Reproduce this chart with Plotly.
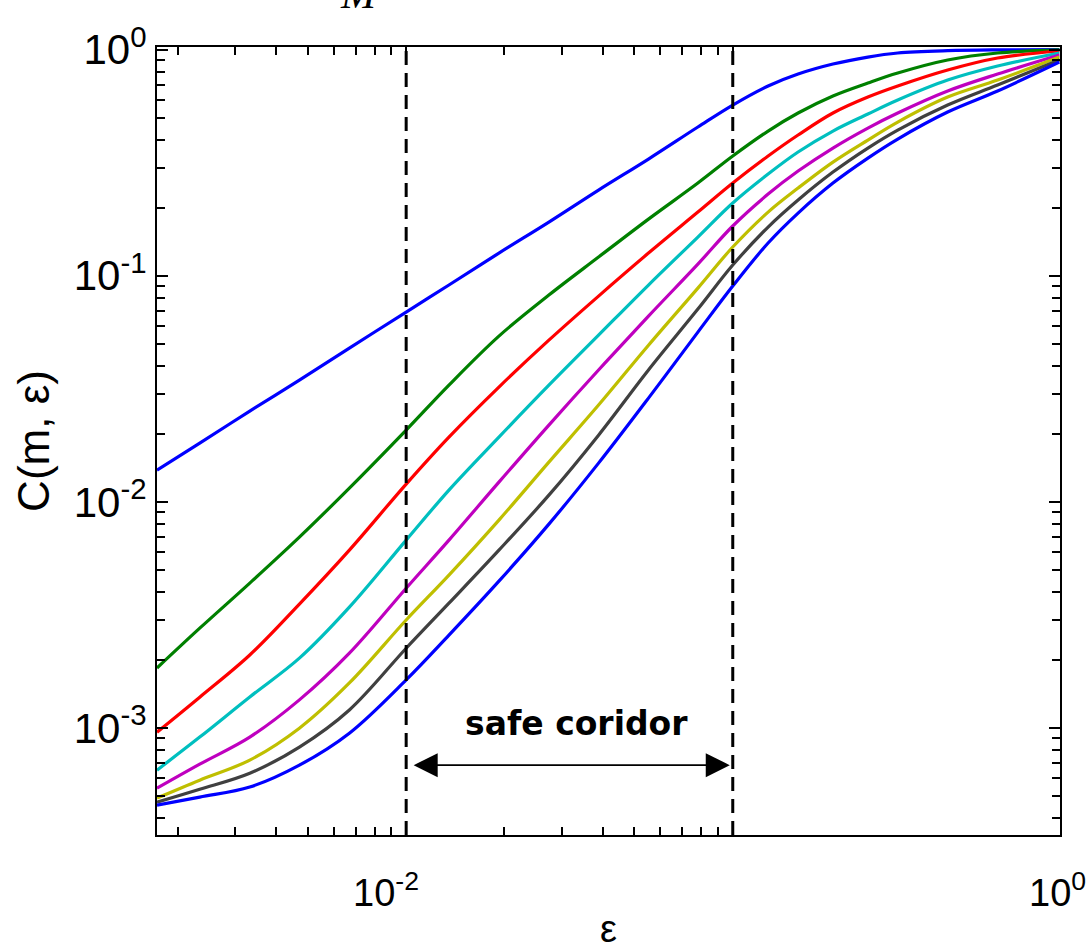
import math
import plotly.graph_objects as go

# Neighbourhood radius values shared by all correlation-sum curves
eps = [0.001726, 0.002333, 0.00332, 0.00471, 0.0067, 0.01, 0.01352, 0.01923,
       0.02735, 0.03882, 0.0552, 0.0782, 0.1, 0.1283, 0.1585, 0.2027, 0.2593,
       0.320, 0.455, 0.647, 1.0]

# Correlation sum C(m, eps) for embedding dimensions m = 1..8
C_m1 = [0.0138, 0.01818, 0.02519, 0.03456, 0.04786, 0.0691, 0.0910, 0.1260, 0.1728,
        0.2394, 0.3284, 0.4550, 0.569, 0.691, 0.7806, 0.8643, 0.928, 0.967, 0.990,
        0.998, 1.0]
C_m2 = [0.00184, 0.00276, 0.00437, 0.00698, 0.0115, 0.02077, 0.03284, 0.05408,
        0.08216, 0.1210, 0.1781, 0.2572, 0.3386, 0.4367, 0.5248, 0.6240, 0.712,
        0.7886, 0.9003, 0.967, 0.998]
C_m3 = [0.000957, 0.001367, 0.00210, 0.003527, 0.006113, 0.01198, 0.01933, 0.03218,
        0.0519, 0.0813, 0.1260, 0.1913, 0.2572, 0.3386, 0.4194, 0.5248, 0.6174,
        0.691, 0.8131, 0.919, 0.987]
C_m4 = [0.000650, 0.000910, 0.00137, 0.002034, 0.00342, 0.00677, 0.01127, 0.01933,
        0.0328, 0.0546, 0.0910, 0.1483, 0.2098, 0.2818, 0.3527, 0.4367, 0.5194,
        0.5990, 0.7340, 0.847, 0.967]
C_m5 = [0.000541, 0.000691, 0.000910, 0.00133, 0.00214, 0.004148, 0.006768, 0.01222,
        0.02185, 0.0383, 0.0663, 0.1126, 0.1660, 0.2298, 0.2905, 0.3673, 0.4502,
        0.5248, 0.6566, 0.7806, 0.947]
C_m6 = [0.000489, 0.000587, 0.000720, 0.000997, 0.00158, 0.00300, 0.00474, 0.00830,
        0.01498, 0.0268, 0.0493, 0.0882, 0.1340, 0.1913, 0.2444, 0.3184, 0.3985,
        0.4787, 0.6174, 0.7340, 0.928]
C_m7 = [0.000469, 0.000535, 0.000630, 0.000822, 0.00120, 0.00225, 0.00356, 0.00611,
        0.01070, 0.01972, 0.0383, 0.0712, 0.1115, 0.1643, 0.2163, 0.2875, 0.3673,
        0.4411, 0.569, 0.698, 0.900]
C_m8 = [0.000455, 0.000494, 0.000547, 0.000684, 0.000947, 0.00163, 0.002572, 0.004457,
        0.007965, 0.01483, 0.02876, 0.05634, 0.09005, 0.1396, 0.1894, 0.2572, 0.3317,
        0.4026, 0.530, 0.6566, 0.882]

series = [C_m1, C_m2, C_m3, C_m4, C_m5, C_m6, C_m7, C_m8]
colors = ["#0000ff", "#008000", "#ff0000", "#00bfbf",
          "#bf00bf", "#bfbf00", "#404040", "#0000ff"]

# Scaling region bounded by the dashed lines
corridor_lo = 0.01
corridor_hi = 0.1
corridor_label = "safe coridor"
arrow_level = 6.84e-4
label_level = 1.044e-3

x_ticktext = ["10<sup>-2</sup>", "10<sup>0</sup>"]
x_minor = [k * 1e-3 for k in range(2, 10)] + [k * 1e-2 for k in range(2, 10)] + [0.1]
y_ticks = [1e-3, 1e-2, 1e-1, 1.0]
y_ticktext = ["10<sup>-3</sup>", "10<sup>-2</sup>", "10<sup>-1</sup>", "10<sup>0</sup>"]
y_minor = [k * 10.0 ** e for e in (-4, -3, -2, -1) for k in range(2, 10)]

x_range = [math.log10(eps[0]), 0.002]
y_range = [-3.474, 0.012]

SANS = "Arial, Liberation Sans, sans-serif"

fig = go.Figure()
for m, (vals, col) in enumerate(zip(series, colors), start=1):
    fig.add_trace(go.Scatter(
        x=eps, y=vals, mode="lines", name=f"m = {m}",
        line=dict(color=col, width=3.2, shape="spline", smoothing=1.0),
        showlegend=False,
    ))

# Dashed boundaries of the corridor
for xv in (corridor_lo, corridor_hi):
    fig.add_trace(go.Scatter(
        x=[xv, xv], y=[10 ** y_range[0], 10 ** y_range[1]], mode="lines",
        line=dict(color="black", width=3, dash="14px,8px"),
        showlegend=False, hoverinfo="skip",
    ))

# Double-headed arrow spanning the corridor
fig.add_annotation(
    x=math.log10(corridor_hi), y=math.log10(arrow_level),
    ax=math.log10(corridor_lo), ay=math.log10(arrow_level),
    xref="x", yref="y", axref="x", ayref="y",
    text="", showarrow=True, arrowside="end+start",
    arrowhead=2, startarrowhead=2, arrowsize=3, startarrowsize=3,
    arrowwidth=1.6, arrowcolor="black", standoff=3, startstandoff=6,
)
fig.add_annotation(
    x=math.log10(math.sqrt(corridor_lo * corridor_hi)) + 0.02,
    y=math.log10(label_level),
    xref="x", yref="y", text=corridor_label, showarrow=False,
    font=dict(family="DejaVu Sans", size=33, color="black", weight="bold"),
)

# Decade labels under the x axis
fig.add_annotation(x=0.2924, y=-0.0374, xref="paper", yref="paper",
                   text=x_ticktext[0], showarrow=False,
                   xanchor="right", yanchor="top",
                   font=dict(family=SANS, size=38, color="black"))
fig.add_annotation(x=0.9635, y=-0.0374, xref="paper", yref="paper",
                   text=x_ticktext[1], showarrow=False,
                   xanchor="left", yanchor="top",
                   font=dict(family=SANS, size=38, color="black"))

# x-axis title
fig.add_annotation(x=0.5, y=-0.119, xref="paper", yref="paper",
                   text="ε", showarrow=False, yanchor="middle",
                   font=dict(family=SANS, size=38, color="black"))

# Partially visible heading above the frame
fig.add_annotation(
    x=0.2, y=1.035, xref="paper", yref="paper", text="<i>M</i>",
    showarrow=False, yanchor="bottom",
    font=dict(family="Liberation Serif", size=42, color="black"),
)

axis_common = dict(
    type="log", showgrid=False, zeroline=False,
    showline=True, linecolor="black", linewidth=2, mirror="ticks",
    ticks="inside", ticklen=11, tickwidth=1.5, tickcolor="black",
)

fig.update_xaxes(
    **axis_common, range=x_range,
    tickmode="array", tickvals=[0.01, 1.0], showticklabels=False,
    minor=dict(tickmode="array", tickvals=x_minor, ticks="inside",
               ticklen=8, tickwidth=1.5, tickcolor="black"),
)
fig.update_yaxes(
    **axis_common, range=y_range,
    tickmode="array", tickvals=y_ticks, ticktext=y_ticktext,
    tickfont=dict(family=SANS, size=42, color="black"),
    minor=dict(tickmode="array", tickvals=y_minor, ticks="inside",
               ticklen=8, tickwidth=1.5, tickcolor="black"),
    title=dict(text="C(m, ε)", font=dict(family=SANS, size=44, color="black"),
               standoff=10),
)

fig.update_layout(
    width=1088, height=949,
    margin=dict(l=157, r=28, t=47, b=114, autoexpand=False),
    plot_bgcolor="white", paper_bgcolor="white",
)

fig.write_html("out.html")
